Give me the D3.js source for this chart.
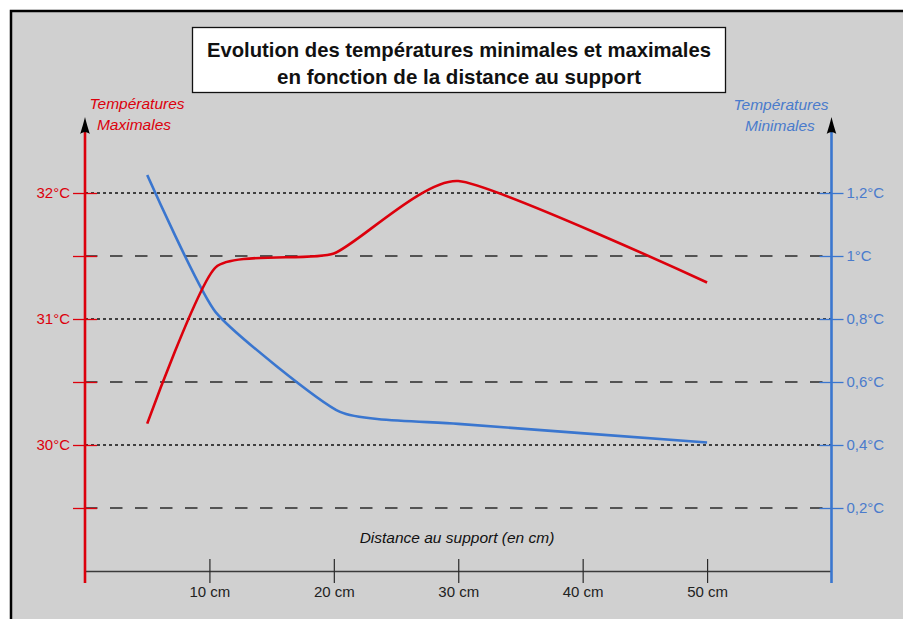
<!DOCTYPE html>
<html>
<head>
<meta charset="utf-8">
<script src="https://cdn.jsdelivr.net/npm/d3@7"></script>
<style>
  body { margin: 0; background: #ffffff; }
  svg { display: block; font-family: "Liberation Sans", Arial, sans-serif; }
</style>
</head>
<body>
<svg id="chart" width="903" height="619"></svg>
<script>
// distances (cm) and temperatures
var distMax = [5, 10.5, 20, 30, 50];
var tMax = [30.17, 31.41, 31.52, 32.095, 31.29];
var distMin = [5, 10.5, 20.5, 30, 50];
var tMin = [1.257, 0.822, 0.505, 0.467, 0.408];

var xTicks = [10, 20, 30, 40, 50];
var maxTicks = [29.5, 30, 30.5, 31, 31.5, 32];
var minTicks = [0.2, 0.4, 0.6, 0.8, 1.0, 1.2];
var titleLines = ["Evolution des températures minimales et maximales", "en fonction de la distance au support"];

var red = "#dc000c";
var blue = "#3a76cf";
var blueText = "#4a7bcc";

var svg = d3.select("#chart");

var scale = {
  "x": d3.scaleLinear().domain([0, 60]).range([85, 831.5]),
  "yMax": d3.scaleLinear().domain([29, 32.5]).range([571, 130]),
  "yMin": d3.scaleLinear().domain([0, 1.4]).range([571, 130])
};

// panel
svg.append("rect")
  .attr("x", 11).attr("y", 11)
  .attr("width", 1000).attr("height", 700)
  .attr("fill", "#d0d0d0")
  .attr("stroke", "#000").attr("stroke-width", 2.5);

// title box
svg.append("rect")
  .attr("x", 192.5).attr("y", 27.5)
  .attr("width", 533).attr("height", 65)
  .attr("fill", "#fff")
  .attr("stroke", "#111").attr("stroke-width", 1.3);

svg.selectAll("text.title")
  .data(titleLines)
  .enter().append("text")
  .attr("class", "title")
  .attr("x", 459)
  .attr("y", function(d, i) { return 57 + i * 27; })
  .attr("text-anchor", "middle")
  .attr("font-size", 21)
  .attr("font-weight", "bold")
  .attr("fill", "#111")
  .attr("textLength", function(d, i) { return i == 0 ? 504 : 364; })
  .attr("lengthAdjust", "spacingAndGlyphs")
  .text(function(d) { return d; });

// grid lines (from the max scale, integers dotted, halves dashed)
var grid = svg.append("g").attr("class", "grid");
grid.selectAll("line")
  .data(maxTicks)
  .enter().append("line")
  .attr("x1", scale.x(0)).attr("x2", scale.x(60))
  .attr("y1", function(d) { return scale.yMax(d); })
  .attr("y2", function(d) { return scale.yMax(d); })
  .attr("stroke", function(d) { return d % 1 == 0 ? "#111" : "#2a2a2a"; })
  .attr("stroke-width", 1.4)
  .attr("stroke-dasharray", function(d) { return d % 1 == 0 ? "3,3" : "12.5,12.5"; });

// x axis
var gx = svg.append("g")
  .attr("transform", "translate(0," + 571 + ")")
  .call(d3.axisBottom(scale.x).tickValues(xTicks).tickSize(12).tickPadding(3).tickSizeOuter(0)
    .tickFormat(function(d) { return d + " cm"; }));
gx.select(".domain").attr("stroke", "#3a3a3a").attr("stroke-width", 1.4);
gx.selectAll(".tick line").attr("y1", -12).attr("stroke", "#2a2a2a").attr("stroke-width", 1.2);
gx.selectAll(".tick text").attr("font-size", 15).attr("fill", "#222").attr("font-family", "Liberation Sans, Arial, sans-serif");

svg.append("text")
  .attr("x", 457).attr("y", 543)
  .attr("text-anchor", "middle")
  .attr("font-size", 15.5).attr("font-style", "italic").attr("fill", "#111")
  .text("Distance au support (en cm)");

// left axis (maximales)
var gl = svg.append("g")
  .attr("transform", "translate(" + scale.x(0) + ",0)")
  .call(d3.axisLeft(scale.yMax).tickValues(maxTicks).tickSize(12).tickPadding(3)
    .tickFormat(function(d) { return d % 1 == 0 ? d + "°C" : ""; }));
gl.select(".domain").remove();
gl.selectAll(".tick line").attr("x1", 12).attr("stroke", red).attr("stroke-width", 1.3);
gl.selectAll(".tick text").attr("font-size", 15).attr("fill", red).attr("font-family", "Liberation Sans, Arial, sans-serif");

// right axis (minimales)
var gr = svg.append("g")
  .attr("transform", "translate(" + scale.x(60) + ",0)")
  .call(d3.axisRight(scale.yMin).tickValues(minTicks).tickSize(12).tickPadding(3)
    .tickFormat(function(d) { return d3.format("~g")(d).replace(".", ",") + "°C"; }));
gr.select(".domain").remove();
gr.selectAll(".tick line").attr("x1", -12).attr("stroke", blue).attr("stroke-width", 1.3);
gr.selectAll(".tick text").attr("font-size", 15).attr("fill", blueText).attr("font-family", "Liberation Sans, Arial, sans-serif");

// vertical axis lines + arrows
[[scale.x(0), red], [scale.x(60), blue]].forEach(function(a) {
  svg.append("line")
    .attr("x1", a[0]).attr("x2", a[0])
    .attr("y1", 583).attr("y2", 125)
    .attr("stroke", a[1]).attr("stroke-width", 2.6);
  svg.append("path")
    .attr("transform", "translate(" + a[0] + ",117)")
    .attr("d", "M0,0 C1.2,5 3,11 4.8,17 C2.5,14.5 -2.5,14.5 -4.8,17 C-3,11 -1.2,5 0,0Z")
    .attr("fill", "#000");
});

// axis captions
var capMax = ["Températures", "Maximales"];
var capMin = ["Températures", "Minimales"];
svg.selectAll("text.capmax")
  .data(capMax).enter().append("text")
  .attr("x", function(d, i) { return i == 0 ? 137 : 134; })
  .attr("y", function(d, i) { return 109 + i * 21; })
  .attr("text-anchor", "middle")
  .attr("font-size", 15.5).attr("font-style", "italic").attr("fill", red)
  .text(function(d) { return d; });
svg.selectAll("text.capmin")
  .data(capMin).enter().append("text")
  .attr("x", function(d, i) { return i == 0 ? 781 : 780; })
  .attr("y", function(d, i) { return 110 + i * 21; })
  .attr("text-anchor", "middle")
  .attr("font-size", 15.5).attr("font-style", "italic").attr("fill", blueText)
  .text(function(d) { return d; });

// curves
var lineMax = d3.line()
  .x(function(d, i) { return scale.x(distMax[i]); })
  .y(function(d) { return scale.yMax(d); })
  .curve(d3.curveCardinal.tension(0.45));
var lineMin = d3.line()
  .x(function(d, i) { return scale.x(distMin[i]); })
  .y(function(d) { return scale.yMin(d); })
  .curve(d3.curveCardinal.tension(0.5));

svg.append("path")
  .attr("d", lineMin(tMin))
  .attr("fill", "none").attr("stroke", blue).attr("stroke-width", 2.6);
svg.append("path")
  .attr("d", lineMax(tMax))
  .attr("fill", "none").attr("stroke", red).attr("stroke-width", 2.6);
</script>
</body>
</html>
